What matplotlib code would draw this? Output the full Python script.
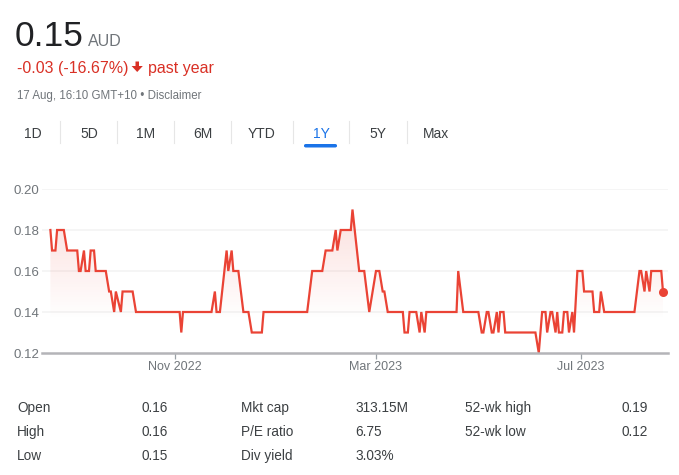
import matplotlib
matplotlib.use("Agg")
import matplotlib.pyplot as plt
import matplotlib.dates as mdates
import numpy as np
import pandas as pd
from matplotlib.patches import Polygon, FancyBboxPatch
from matplotlib.lines import Line2D

plt.rcParams['font.family'] = ['Liberation Sans', 'DejaVu Sans']

# ---------------- data ----------------
dates = [
    "2022-08-19", "2022-08-20", "2022-08-22", "2022-08-23", "2022-08-27", "2022-08-29",
    "2022-09-04", "2022-09-05", "2022-09-06", "2022-09-08", "2022-09-09", "2022-09-11",
    "2022-09-12", "2022-09-14", "2022-09-15", "2022-09-21", "2022-09-23", "2022-09-24",
    "2022-09-26", "2022-09-27", "2022-09-30", "2022-10-01", "2022-10-07", "2022-10-09",
    "2022-11-04", "2022-11-05", "2022-11-06", "2022-11-23", "2022-11-25", "2022-11-26",
    "2022-11-28", "2022-12-02", "2022-12-03", "2022-12-05", "2022-12-06", "2022-12-09",
    "2022-12-12", "2022-12-15", "2022-12-17", "2022-12-23", "2022-12-24", "2023-01-19",
    "2023-01-22", "2023-01-28", "2023-01-30", "2023-02-03", "2023-02-05", "2023-02-06",
    "2023-02-08", "2023-02-14", "2023-02-15", "2023-02-19", "2023-02-22", "2023-02-25",
    "2023-03-01", "2023-03-03", "2023-03-05", "2023-03-06", "2023-03-08", "2023-03-17",
    "2023-03-18", "2023-03-20", "2023-03-21", "2023-03-25", "2023-03-27", "2023-03-28",
    "2023-03-30", "2023-03-31", "2023-04-18", "2023-04-19", "2023-04-22", "2023-05-01",
    "2023-05-03", "2023-05-04", "2023-05-06", "2023-05-07", "2023-05-09", "2023-05-10",
    "2023-05-12", "2023-05-13", "2023-05-14", "2023-05-16", "2023-05-17", "2023-06-04",
    "2023-06-06", "2023-06-08", "2023-06-10", "2023-06-11", "2023-06-13", "2023-06-14",
    "2023-06-16", "2023-06-17", "2023-06-18", "2023-06-20", "2023-06-21", "2023-06-23",
    "2023-06-24", "2023-06-26", "2023-06-27", "2023-06-29", "2023-07-02", "2023-07-03",
    "2023-07-08", "2023-07-09", "2023-07-12", "2023-07-13", "2023-07-15", "2023-08-02",
    "2023-08-05", "2023-08-06", "2023-08-08", "2023-08-09", "2023-08-11", "2023-08-12",
    "2023-08-18", "2023-08-19",
]
prices = [
    0.18, 0.17, 0.17, 0.18, 0.18, 0.17,
    0.17, 0.16, 0.16, 0.17, 0.16, 0.16,
    0.17, 0.17, 0.16, 0.16, 0.15, 0.15,
    0.14, 0.15, 0.14, 0.15, 0.15, 0.14,
    0.14, 0.13, 0.14, 0.14, 0.15, 0.14,
    0.14, 0.17, 0.16, 0.17, 0.16, 0.16,
    0.14, 0.14, 0.13, 0.13, 0.14, 0.14,
    0.16, 0.16, 0.17, 0.17, 0.18, 0.17,
    0.18, 0.18, 0.19, 0.16, 0.16, 0.14,
    0.16, 0.16, 0.15, 0.15, 0.14, 0.14,
    0.13, 0.13, 0.14, 0.14, 0.13, 0.14,
    0.13, 0.14, 0.14, 0.16, 0.14, 0.14,
    0.13, 0.13, 0.14, 0.14, 0.13, 0.13,
    0.14, 0.13, 0.14, 0.14, 0.13, 0.13,
    0.12, 0.14, 0.14, 0.13, 0.14, 0.14,
    0.13, 0.14, 0.13, 0.13, 0.14, 0.14,
    0.13, 0.14, 0.13, 0.16, 0.16, 0.15,
    0.15, 0.14, 0.14, 0.15, 0.14, 0.14,
    0.16, 0.16, 0.15, 0.16, 0.15, 0.16,
    0.16, 0.15,
]
y_ticks = [0.12, 0.14, 0.16, 0.18, 0.20]
x_tick_dates = ["2022-11-01", "2023-03-01", "2023-07-01"]
x_tick_labels = ["Nov 2022", "Mar 2023", "Jul 2023"]
x_range = ["2022-08-14", "2023-08-22"]

price_now = "0.15"
currency = "AUD"
change_text = "-0.03 (-16.67%)"
period_text = "past year"
timestamp = "17 Aug, 16:10 GMT+10 \u2022 Disclaimer"
tabs = ["1D", "5D", "1M", "6M", "YTD", "1Y", "5Y", "Max"]
active_tab = "1Y"

stat_labels_1 = ["Open", "High", "Low"]
stat_values_1 = ["0.16", "0.16", "0.15"]
stat_labels_2 = ["Mkt cap", "P/E ratio", "Div yield"]
stat_values_2 = ["313.15M", "6.75", "3.03%"]
stat_labels_3 = ["52-wk high", "52-wk low"]
stat_values_3 = ["0.19", "0.12"]

# ---------------- figure ----------------
W, H = 679, 475
fig = plt.figure(figsize=(W / 100, H / 100), dpi=100)
fig.patch.set_facecolor("white")

def fx(x):
    return x / W

def fy(y):
    return 1 - y / H

RED = "#ea4335"
TXT_RED = "#d93025"
DARK = "#202124"
GRAY = "#70757a"
MID = "#3c4043"

# header
fig.text(fx(15), fy(46), price_now, fontsize=25.5, color=DARK, va="baseline", ha="left")
fig.text(fx(88), fy(46), currency, fontsize=11.5, color=GRAY, va="baseline", ha="left")
fig.text(fx(17), fy(73), change_text, fontsize=11.5, color=TXT_RED, va="baseline", ha="left")
# down arrow icon
arrow = Polygon([[fx(135.5), fy(61.5)], [fx(139), fy(61.5)], [fx(139), fy(66)], [fx(142.8), fy(66)],
                 [fx(137.2), fy(72)], [fx(131.6), fy(66)], [fx(135.5), fy(66)]],
                closed=True, transform=fig.transFigure, facecolor=TXT_RED, edgecolor="none")
fig.patches.append(arrow)
fig.text(fx(148), fy(73), period_text, fontsize=11.5, color=TXT_RED, va="baseline", ha="left")
fig.text(fx(17), fy(99), timestamp, fontsize=8.3, color=GRAY, va="baseline", ha="left")

# tabs
tab_centers = [32.5, 89, 146, 203, 262, 321.5, 378, 436]
separators = [60, 117, 174, 231, 292.5, 349.5, 406.5]
for name, cx in zip(tabs, tab_centers):
    col = "#1a73e8" if name == active_tab else MID
    fig.text(fx(cx), fy(138), name, fontsize=10, color=col, va="baseline", ha="center")
    if name == active_tab:
        bar = FancyBboxPatch((fx(304), fy(147.5)), fx(337) - fx(304), fy(144) - fy(147.5),
                             boxstyle="round,pad=0,rounding_size=0.003",
                             transform=fig.transFigure, facecolor="#1a73e8", edgecolor="none")
        fig.patches.append(bar)
for sx in separators:
    fig.lines.append(Line2D([fx(sx), fx(sx)], [fy(121), fy(143)], transform=fig.transFigure,
                            color="#e6e6e6", lw=0.8))

# ---------------- chart ----------------
ax = fig.add_axes([fx(42), fy(353), fx(668) - fx(42), fy(189) - fy(353)])
ax.set_facecolor("white")
xd = pd.to_datetime(dates)
xn = mdates.date2num(xd)
yv = np.array(prices)

x0, x1 = mdates.date2num(pd.to_datetime(x_range))
ax.set_xlim(x0, x1)
ax.set_ylim(y_ticks[0], y_ticks[-1])

for yt in y_ticks[1:]:
    ax.axhline(yt, color="#f5f5f5", lw=1.3, zorder=0)

# gradient fill under the line
fill = ax.fill_between(xn, yv, y_ticks[0], color="none", lw=0)
grad_n = 256
ys = np.linspace(y_ticks[0], y_ticks[-1], grad_n)
a = np.clip((ys - 0.136) / (0.19 - 0.136), 0, 1) * 0.17
img = np.zeros((grad_n, 2, 4))
img[..., 0] = 0.918
img[..., 1] = 0.263
img[..., 2] = 0.208
img[..., 3] = a[:, None]
im = ax.imshow(img, extent=[x0, x1, y_ticks[0], y_ticks[-1]], origin="lower",
               aspect="auto", zorder=1, interpolation="bilinear")
path = fill.get_paths()[0]
im.set_clip_path(path, transform=ax.transData)

ax.plot(xn, yv, color=RED, lw=1.6, solid_joinstyle="miter", zorder=3)
ax.plot([xn[-1]], [yv[-1]], "o", color=RED, ms=6.5, mec="none", zorder=4)

for s in ["top", "right", "left"]:
    ax.spines[s].set_visible(False)
ax.spines["bottom"].set_color("#b4b4b8")
ax.spines["bottom"].set_linewidth(1.8)
ax.spines["bottom"].set_zorder(5)

ax.set_yticks(y_ticks)
ax.set_yticklabels([f"{v:.2f}" for v in y_ticks])
ax.tick_params(axis="y", length=0, pad=2, labelsize=9.5, labelcolor=GRAY)
ax.set_xticks(mdates.date2num(pd.to_datetime(x_tick_dates)))
ax.set_xticklabels(x_tick_labels)
ax.tick_params(axis="x", length=4, width=0.9, color="#9aa0a6", pad=1.5, labelsize=9, labelcolor=GRAY)

# ---------------- stats table ----------------
row_y = [412, 436, 460]
for i, (l, v) in enumerate(zip(stat_labels_1, stat_values_1)):
    fig.text(fx(17), fy(row_y[i]), l, fontsize=9.8, color=MID, va="baseline")
    fig.text(fx(141), fy(row_y[i]), v, fontsize=9.8, color=MID, va="baseline")
for i, (l, v) in enumerate(zip(stat_labels_2, stat_values_2)):
    fig.text(fx(241), fy(row_y[i]), l, fontsize=9.8, color=MID, va="baseline")
    fig.text(fx(355), fy(row_y[i]), v, fontsize=9.8, color=MID, va="baseline")
for i, (l, v) in enumerate(zip(stat_labels_3, stat_values_3)):
    fig.text(fx(465), fy(row_y[i]), l, fontsize=9.8, color=MID, va="baseline")
    fig.text(fx(622), fy(row_y[i]), v, fontsize=9.8, color=MID, va="baseline")

fig.savefig("out.png", dpi=100, facecolor="white")
